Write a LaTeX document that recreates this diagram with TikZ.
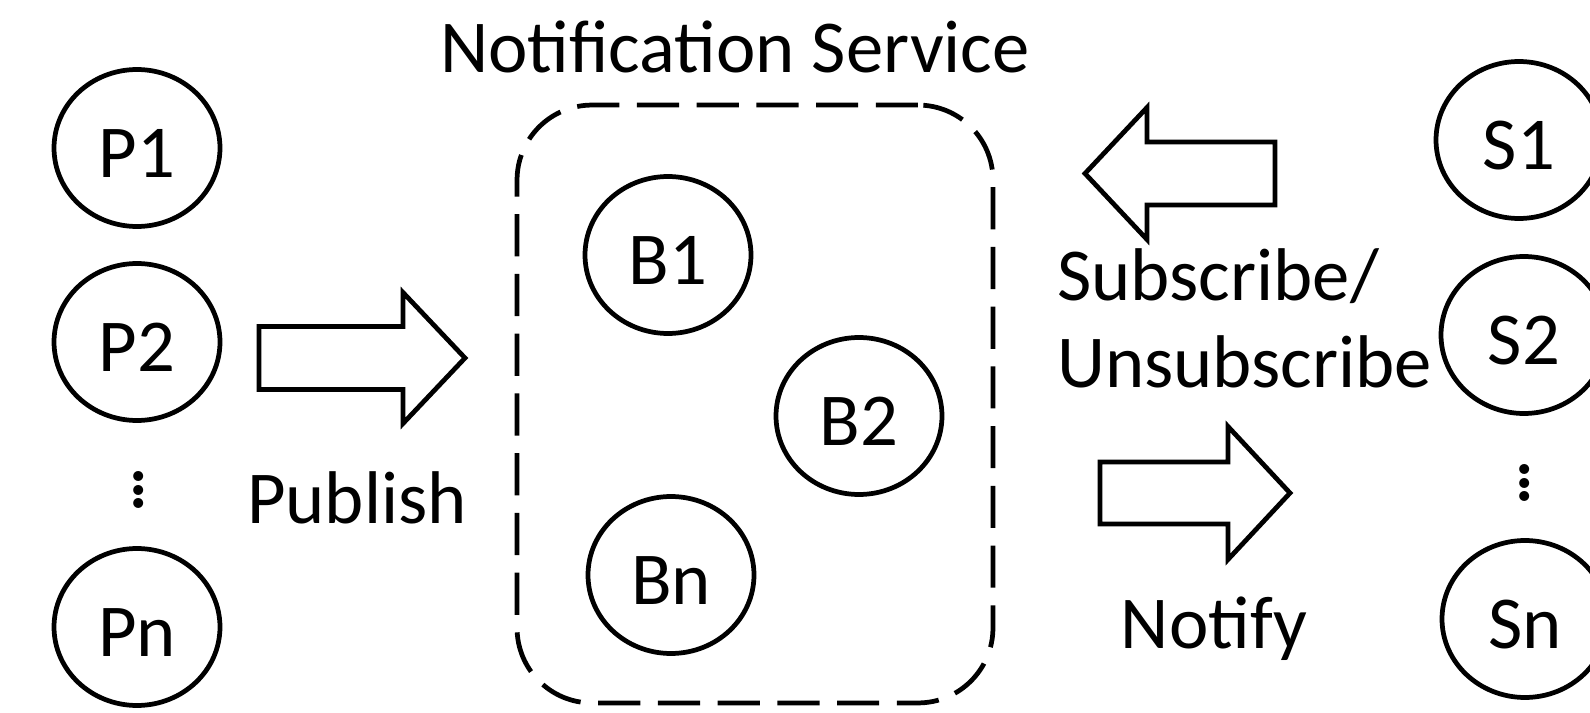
\documentclass[tikz,border=0pt]{standalone}
\usepackage{fontspec}
\setmainfont{Carlito}
\newfontfamily\roundfont{lmroman10-regular.otf}
\usetikzlibrary{shapes.geometric}
% three round dots stacked closely
\newcommand{\stackdots}{\vbox{\offinterlineskip\hbox{.}\kern2pt\hbox{.}\kern2pt\hbox{.}}}
\tikzset{
  lbl/.style={font=\fontsize{42.5}{50}\selectfont, inner sep=0pt},
  agent/.style={ellipse, draw, line width=2.7pt, minimum width=3.32cm,
    minimum height=3.14cm, inner sep=0pt, font=\fontsize{42.5}{50}\selectfont,
    text height=34pt, text depth=0pt},
  blockarrow/.style={draw, line width=2.7pt, miter limit=10},
  service/.style={draw, line width=2.7pt, dash pattern=on 24pt off 10pt,
    rounded corners=1.5cm, minimum width=9.52cm, minimum height=11.96cm,
    inner sep=0pt},
  vdotsnode/.style={font=\roundfont\fontsize{54}{54}\selectfont, inner sep=0pt}
}
\begin{document}
\begin{tikzpicture}[x=0.02cm, y=-0.02cm]
\clip (0,0) rectangle (1590,713);
\fill[white] (0,0) rectangle (1590,713);

% publishers
\node[agent] (p1) at (137,148) {P1};
\node[agent] (p2) at (137,342) {P2};
\node[vdotsnode] (pdots) at (139,490) {\stackdots};
\node[agent] (pn) at (137,627) {Pn};

% notification service with its brokers
\node[service] (svc) at (755,404) {};
\node[lbl, anchor=base] (title) at (735,73) {Notification Service};
\node[agent] (b1) at (668,255) {B1};
\node[agent] (b2) at (859,416) {B2};
\node[agent] (bn) at (671,575) {Bn};

% subscribers
\node[agent] (s1) at (1519,140) {S1};
\node[agent] (s2) at (1524,335) {S2};
\node[vdotsnode] (sdots) at (1525,483) {\stackdots};
\node[agent] (sn) at (1525,619) {Sn};

% publish arrow
\draw[blockarrow] (259,326.5) -- (403,326.5) -- (403,292.5) -- (465,358)
  -- (403,423.5) -- (403,389.5) -- (259,389.5) -- cycle;
\node[lbl, anchor=base] (publish) at (357,523) {Publish};

% subscribe / unsubscribe arrow
\draw[blockarrow] (1085,173.5) -- (1147,107.5) -- (1147,142) -- (1275,142)
  -- (1275,205) -- (1147,205) -- (1147,239.5) -- cycle;
\node[lbl, anchor=base west] (sub) at (1057,300) {Subscribe/};
\node[lbl, anchor=base west] (unsub) at (1057,387) {Unsubscribe};

% notify arrow
\draw[blockarrow] (1100,462) -- (1228,462) -- (1228,426.5) -- (1290,493)
  -- (1228,559.5) -- (1228,524) -- (1100,524) -- cycle;
\node[lbl, anchor=base] (notify) at (1214,648) {Notify};
\end{tikzpicture}
\end{document}
